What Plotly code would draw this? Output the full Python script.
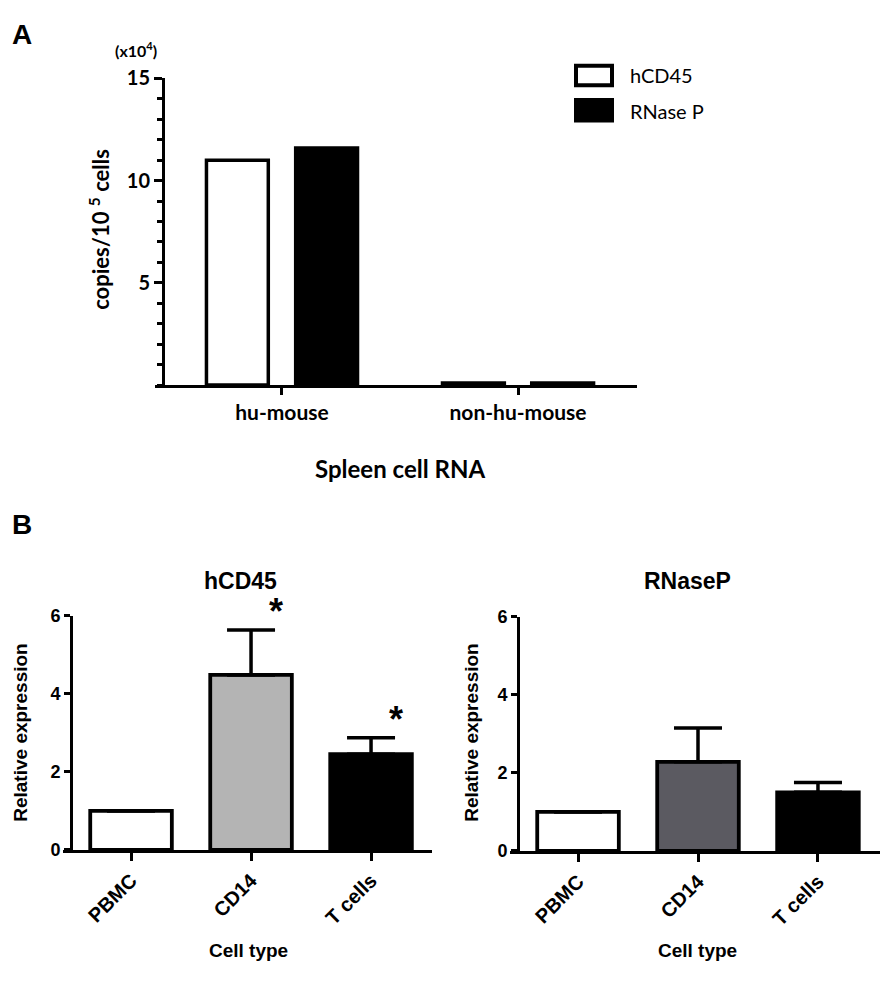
import plotly.graph_objects as go

# ---- data ----
# Panel A: spleen cell RNA, copies per 10^5 cells (x10^4)
groups_a = ["hu-mouse", "non-hu-mouse"]
hcd45_a = [11.0, 0.1]
rnasep_a = [11.6, 0.1]

# Panel B: relative expression by cell type
cell_types = ["PBMC", "CD14", "T cells"]
hcd45_b = [1.0, 4.48, 2.45]
hcd45_b_err = [0, 1.15, 0.42]
rnasep_b = [1.0, 2.28, 1.5]
rnasep_b_err = [0, 0.87, 0.25]
sig_b = ["", "*", "*"]  # significance marks on hCD45

W, H = 892, 984
FA = "Lato"
FB = "Liberation Sans"


def px(x):
    return x / W


def py(y):
    return 1 - y / H


fig = go.Figure()

# Panel A bars
fig.add_trace(go.Bar(
    x=groups_a, y=hcd45_a, name="hCD45", xaxis="x", yaxis="y",
    offset=-0.32, width=0.262,
    marker=dict(color="white", line=dict(color="black", width=3.5)),
    showlegend=False,
))
fig.add_trace(go.Bar(
    x=groups_a, y=rnasep_a, name="RNase P", xaxis="x", yaxis="y",
    offset=0.058, width=0.262,
    marker=dict(color="black", line=dict(color="black", width=3.5)),
    showlegend=False,
))

# Panel B bars
err_style = dict(type="data", symmetric=False, thickness=3.5, width=24, color="black")
fig.add_trace(go.Bar(
    x=cell_types, y=hcd45_b, name="hCD45", xaxis="x2", yaxis="y2", width=0.68,
    error_y=dict(array=hcd45_b_err, arrayminus=[0, 0, 0], **err_style),
    marker=dict(color=["white", "#b4b4b4", "black"], line=dict(color="black", width=3.8)),
    showlegend=False,
))
fig.add_trace(go.Bar(
    x=cell_types, y=rnasep_b, name="RNaseP", xaxis="x3", yaxis="y3", width=0.68,
    error_y=dict(array=rnasep_b_err, arrayminus=[0, 0, 0], **err_style),
    marker=dict(color=["white", "#5b5a61", "black"], line=dict(color="black", width=3.8)),
    showlegend=False,
))

axis_common = dict(showline=True, linecolor="black", linewidth=3, ticks="outside",
                   tickcolor="black", tickwidth=3, showgrid=False, zeroline=False)
tick_b = dict(family=FB, size=18, color="black", weight="bold")
cat_b = dict(family=FB, size=20, color="black", weight="bold")

fig.update_layout(
    width=W, height=H,
    margin=dict(l=0, r=0, t=0, b=0),
    paper_bgcolor="white", plot_bgcolor="white",
    barmode="overlay",
    xaxis=dict(domain=[px(155), px(637)], range=[-0.538, 1.504], anchor="y",
               ticklen=7, tickfont=dict(family=FA, size=21, color="black", weight="bold"),
               **axis_common),
    yaxis=dict(domain=[py(381), py(67)], range=[0, 15], anchor="free", position=px(163),
               tickvals=[5, 10, 15], ticklen=8,
               minor=dict(dtick=1, ticks="outside", ticklen=5, tickwidth=2.5, tickcolor="black"),
               tickfont=dict(family=FA, size=20, color="black", weight="bold"),
               **axis_common),
    xaxis2=dict(domain=[px(63), px(432)], range=[-0.567, 2.508], anchor="y2",
                ticklen=8, tickangle=-45, tickfont=cat_b, **axis_common),
    yaxis2=dict(domain=[py(857), py(617)], range=[0, 6], anchor="free", position=px(71),
                tickvals=[0, 2, 4, 6], ticklen=6, tickfont=tick_b, **axis_common),
    xaxis3=dict(domain=[px(510), px(880)], range=[-0.567, 2.517], anchor="y3",
                ticklen=8, tickangle=-45, tickfont=cat_b, **axis_common),
    yaxis3=dict(domain=[py(858), py(618)], range=[0, 6], anchor="free", position=px(518),
                tickvals=[0, 2, 4, 6], ticklen=6, tickfont=tick_b, **axis_common),
)

ann = []


def label(text, x, y, family, size, bold=True, angle=0, xanchor="center"):
    ann.append(dict(text=text, x=px(x), y=py(y), xref="paper", yref="paper",
                    showarrow=False, textangle=angle, xanchor=xanchor, yanchor="middle",
                    font=dict(family=family, size=size, color="black",
                              weight="bold" if bold else "normal")))


# panel letters
label("A", 22, 22, FB, 28)
label("B", 22, 524, FB, 28)

# panel A texts
label("(x10<sup>4</sup>)", 136, 37, FA, 16)
label("copies/10 <sup>5</sup> cells", 100, 222, FA, 22, angle=-90)
label("Spleen cell RNA", 400, 466, FA, 24)
label("hCD45", 628, 63, FA, 20, bold=False, xanchor="left")
label("RNase P", 628, 100, FA, 20, bold=False, xanchor="left")

# panel B texts
label("hCD45", 240, 582, FB, 23)
label("RNaseP", 687, 582, FB, 23)
label("Relative expression", 21, 737, FB, 19, angle=-90)
label("Relative expression", 472, 737, FB, 19, angle=-90)
label("Cell type", 249, 960, FB, 19)
label("Cell type", 697, 960, FB, 19)

# significance asterisks above the hCD45 error bars
for cat, val, err, mark in zip(cell_types, hcd45_b, hcd45_b_err, sig_b):
    if mark:
        ann.append(dict(text=mark, x=cat, y=val + err, xref="x2", yref="y2",
                        xshift=25, yshift=-4, showarrow=False, xanchor="center",
                        yanchor="bottom",
                        font=dict(family=FB, size=36, color="black", weight="bold")))

fig.update_layout(annotations=ann)

# legend boxes for panel A
fig.update_layout(shapes=[
    dict(type="rect", xref="paper", yref="paper", x0=px(576), x1=px(612), y0=py(74), y1=py(54),
         line=dict(color="black", width=4), fillcolor="white"),
    dict(type="rect", xref="paper", yref="paper", x0=px(576), x1=px(612), y0=py(110), y1=py(89),
         line=dict(color="black", width=4), fillcolor="black"),
])

# no page margin / scrollbars, no modebar
page_fix = ("document.documentElement.style.overflow='hidden';"
            "document.body.style.margin='0';document.body.style.overflow='hidden';")
fig.write_html("out.html", config={"displayModeBar": False}, post_script=page_fix)
